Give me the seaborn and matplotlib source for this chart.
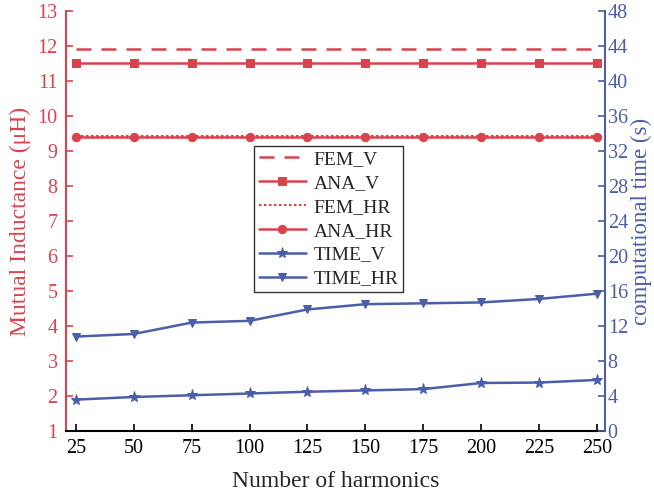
import numpy as np
import pandas as pd
import seaborn as sns
import matplotlib.pyplot as plt

harmonics = [25, 50, 75, 100, 125, 150, 175, 200, 225, 250]
fem_v = [11.9] * 10
ana_v = [11.5] * 10
fem_hr = [9.42] * 10
ana_hr = [9.4] * 10
time_v = [3.6, 3.9, 4.1, 4.3, 4.5, 4.65, 4.8, 5.5, 5.55, 5.85]
time_hr = [10.8, 11.1, 12.4, 12.6, 13.9, 14.5, 14.6, 14.7, 15.1, 15.7]

red = '#D9434F'
blue = '#4B5EA8'

sns.set_style('white')
plt.rcParams['font.family'] = ['Liberation Serif', 'DejaVu Serif']

df = pd.DataFrame({'n': harmonics, 'FEM_V': fem_v, 'ANA_V': ana_v,
                   'FEM_HR': fem_hr, 'ANA_HR': ana_hr,
                   'TIME_V': time_v, 'TIME_HR': time_hr})

fig = plt.figure(figsize=(6.54, 4.95), dpi=100)
ax = fig.add_axes([0.101, 0.129, 0.824, 0.849])
ax2 = ax.twinx()

sns.lineplot(data=df, x='n', y='FEM_V', ax=ax, color=red, lw=1.8,
             label='FEM_V')
ax.lines[-1].set_linestyle((0, (6, 4)))
sns.lineplot(data=df, x='n', y='ANA_V', ax=ax, color=red, lw=1.8,
             marker='s', markersize=6, markeredgecolor=red, label='ANA_V')
sns.lineplot(data=df, x='n', y='FEM_HR', ax=ax, color=red, lw=1.5,
             label='FEM_HR')
ax.lines[-1].set_linestyle((0, (1.2, 1.2)))
sns.lineplot(data=df, x='n', y='ANA_HR', ax=ax, color=red, lw=1.8,
             marker='o', markersize=6, markeredgecolor=red, label='ANA_HR')
sns.lineplot(data=df, x='n', y='TIME_V', ax=ax2, color=blue, lw=1.8,
             marker='*', markersize=8, markeredgecolor=blue, label='TIME_V')
sns.lineplot(data=df, x='n', y='TIME_HR', ax=ax2, color=blue, lw=1.8,
             marker='v', markersize=6, markeredgecolor=blue, label='TIME_HR')

ax.set_xlim(20.7, 253.5)
ax.set_ylim(1, 13)
ax.set_yticks(range(1, 14))
ax2.set_ylim(0, 48)
ax2.set_yticks(range(0, 49, 4))
ax.set_xticks(harmonics)

ax.set_xlabel('Number of harmonics', fontsize=17, labelpad=9)
ax.set_ylabel('Mutual Inductance (μH)', fontsize=17, color=red, labelpad=5)
ax2.set_ylabel('computational time (s)', fontsize=16.5, color=blue, labelpad=2)

ax.tick_params(axis='y', direction='in', colors=red, labelsize=14.5, length=5, width=1.2, left=True, pad=6)
ax.tick_params(axis='x', direction='in', colors='black', labelsize=14.5, length=5, width=1.2, bottom=True, pad=6)
ax2.tick_params(axis='y', direction='in', colors=blue, labelsize=14.5, length=5, width=1.2, right=True, pad=2)

for a in (ax, ax2):
    a.spines['top'].set_visible(False)
ax.spines['left'].set_color(red)
ax.spines['left'].set_linewidth(1.5)
ax.spines['right'].set_visible(False)
ax.spines['bottom'].set_color('black')
ax.spines['bottom'].set_linewidth(1.5)
ax2.spines['left'].set_visible(False)
ax2.spines['bottom'].set_visible(False)
ax2.spines['right'].set_color(blue)
ax2.spines['right'].set_linewidth(1.5)

h1, l1 = ax.get_legend_handles_labels()
h2, l2 = ax2.get_legend_handles_labels()
if ax.get_legend():
    ax.get_legend().remove()
if ax2.get_legend():
    ax2.get_legend().remove()
leg = ax2.legend(h1 + h2, l1 + l2, loc='upper left', bbox_to_anchor=(0.349, 0.679),
                 fontsize=14, frameon=True, fancybox=False, edgecolor='black',
                 handlelength=2.4, borderpad=0.25, labelspacing=0.32, handletextpad=0.4,
                 borderaxespad=0)
leg.get_frame().set_linewidth(1.0)

fig.savefig('out.png', dpi=100)
